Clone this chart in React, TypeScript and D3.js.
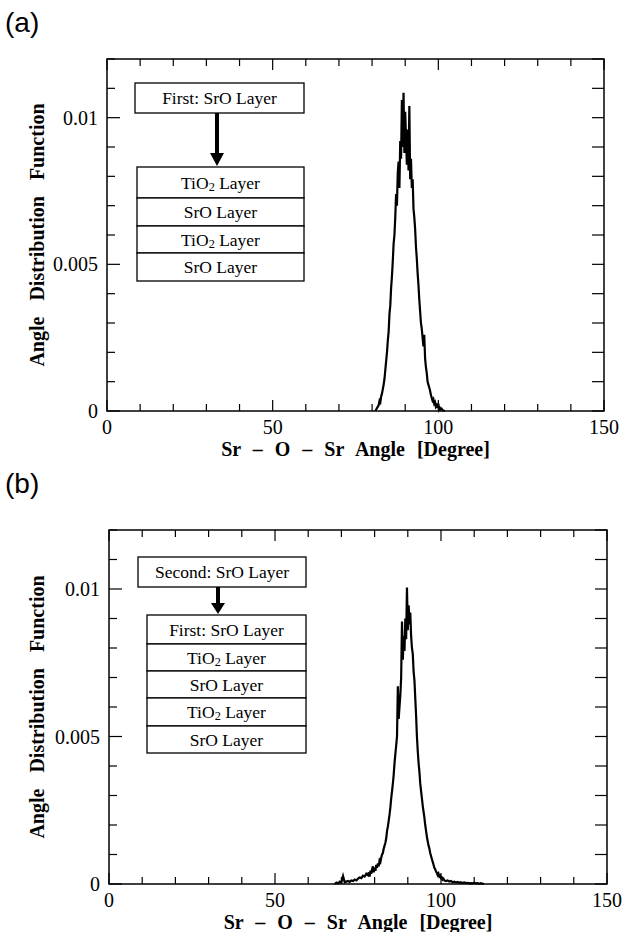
import React from "react";
import * as d3 from "d3";

// ---------- data ----------
const xTickValues = d3.range(0, 151, 10);
const xMajorLabels = [0, 50, 100, 150];
const yTickValues = d3.range(0, 13).map((i) => i * 0.001);
const yMajorLabels = [0, 0.005, 0.01];
const yLabelText = ["0", "0.005", "0.01"];

// Panel (a): Sr-O-Sr angle distribution, bins of 0.25 degree starting at 81.0 (values x 1e-3)
const aStart = 81.0;
const aStep = 0.25;
const aValues = [
  0, 0.05, 0.1, 0.15, 0.2, 0.35, 0.3, 0.5, 0.6, 0.75, 0.9, 1.1,
  1.4, 1.7, 2.0, 2.4, 2.7, 3.3, 3.6, 4.2, 4.6, 5.1, 5.7, 6.0,
  6.6, 7.4, 7.0, 8.1, 8.5, 7.6, 9.2, 8.6, 10.6, 9.0, 10.85, 8.8,
  10.2, 9.3, 8.4, 9.6, 8.2, 10.4, 7.9, 8.6, 7.6, 7.9, 6.9, 6.6,
  6.2, 5.6, 5.2, 4.7, 4.3, 3.8, 3.4, 3.0, 2.8, 2.5, 2.2, 2.6,
  1.8, 1.5, 1.3, 1.0, 0.9, 0.8, 0.7, 0.55, 0.45, 0.35, 0.4, 0.25,
  0.3, 0.15, 0.2, 0.1, 0.25, 0.05, 0.1, 0.05, 0.08, 0.04, 0.02, 0.01, 0,
];

// Panel (b): left tail (0.5 deg bins from 68.0), core (0.25 deg bins from 78.0), right tail (0.5 deg bins from 101.5)
const bLeftStart = 68.0;
const bLeftValues = [
  0, 0.05, 0.02, 0.08, 0.05, 0.27, 0.06, 0.08, 0.1, 0.07,
  0.12, 0.1, 0.15, 0.12, 0.18, 0.22, 0.2, 0.28, 0.25, 0.35,
];
const bCoreStart = 78.0;
const bCoreValues = [
  0.3, 0.4, 0.25, 0.45, 0.35, 0.5, 0.6, 0.4, 0.55, 0.45, 0.65, 0.55,
  0.7, 0.6, 0.8, 0.75, 0.9, 1.0, 1.05, 1.2, 1.3, 1.4, 1.55, 1.8,
  1.95, 2.15, 2.35, 2.6, 2.9, 3.15, 3.4, 3.7, 4.1, 4.4, 4.7, 5.0,
  6.7, 5.6, 6.0, 6.4, 7.0, 8.9, 7.6, 8.4, 7.9, 9.0, 8.3, 10.05,
  8.6, 9.45, 8.8, 9.2, 8.4, 8.0, 7.8, 7.2, 6.9, 6.3, 5.7, 5.0,
  4.5, 4.1, 3.8, 3.4, 3.15, 2.9, 2.65, 2.45, 2.25, 2.0, 1.8, 1.6,
  1.45, 1.3, 1.2, 1.05, 0.95, 0.85, 0.75, 0.65, 0.55, 0.5, 0.42, 0.38,
  0.3, 0.35, 0.25, 0.28, 0.2, 0.22, 0.15, 0.18, 0.12,
];
const bRightStart = 101.5;
const bRightValues = [
  0.1, 0.12, 0.08, 0.1, 0.06, 0.08, 0.05, 0.07, 0.04, 0.06, 0.03, 0.05,
  0.03, 0.04, 0.02, 0.03, 0.02, 0.04, 0.02, 0.03, 0.01, 0.03, 0.01, 0,
];

const legendHeadA = "First: SrO Layer";
const legendStackA = ["TiO2 Layer", "SrO Layer", "TiO2 Layer", "SrO Layer"];
const legendHeadB = "Second: SrO Layer";
const legendStackB = ["First: SrO Layer", "TiO2 Layer", "SrO Layer", "TiO2 Layer", "SrO Layer"];

const xTitle = "Sr \u2013 O \u2013 Sr Angle [Degree]";
const yTitle = "Angle Distribution Function";

// ---------- helpers ----------
type Pt = [number, number];
const series = (start: number, step: number, vals: number[]): Pt[] =>
  vals.map((v, i) => [start + i * step, v * 1e-3] as Pt);

const aData: Pt[] = series(aStart, aStep, aValues);
const bData: Pt[] = [
  ...series(bLeftStart, 0.5, bLeftValues),
  ...series(bCoreStart, 0.25, bCoreValues),
  ...series(bRightStart, 0.5, bRightValues),
];

const SERIF = "'Liberation Serif', 'Times New Roman', serif";
const SANS = "'Liberation Sans', Arial, Helvetica, sans-serif";

function LayerText({ text, x, y, size }: { text: string; x: number; y: number; size: number }) {
  const idx = text.indexOf("TiO2");
  if (idx >= 0) {
    const rest = text.slice(idx + 4);
    return (
      <text x={x} y={y} textAnchor="middle" fontFamily={SERIF} fontSize={size}>
        TiO
        <tspan fontSize={size * 0.7} dy={2}>2</tspan>
        <tspan dy={-2}>{rest}</tspan>
      </text>
    );
  }
  return (
    <text x={x} y={y} textAnchor="middle" fontFamily={SERIF} fontSize={size}>
      {text}
    </text>
  );
}

type PanelProps = {
  label: string;
  labelY: number;
  left: number;
  right: number;
  top: number;
  bottom: number;
  data: Pt[];
  head: string;
  stack: string[];
  headBox: { x0: number; x1: number; y0: number; y1: number };
  stackBox: { x0: number; x1: number; y0: number; rows: number[] };
  arrowX: number;
  headArrowTop: number;
};

function Panel(p: PanelProps) {
  const x = d3.scaleLinear().domain([0, 150]).range([p.left, p.right]);
  const y = d3.scaleLinear().domain([0, 0.012]).range([p.bottom, p.top]);
  const line = d3
    .line<Pt>()
    .x((d) => x(d[0]))
    .y((d) => y(d[1]));

  const cx = (p.left + p.right) / 2;
  const cy = (p.top + p.bottom) / 2;
  const fs = 17.5;

  const stackTop = p.stackBox.y0;
  const rowEdges = [stackTop, ...p.stackBox.rows];
  const arrowStart = p.headBox.y1;
  const arrowEnd = stackTop - 1;

  return (
    <g>
      <text x={5} y={p.labelY} fontFamily={SANS} fontSize={28}>
        {p.label}
      </text>

      {/* curve */}
      <path d={line(p.data) || ""} fill="none" stroke="#000" strokeWidth={2.2} strokeLinejoin="miter" />

      {/* frame */}
      <rect x={p.left} y={p.top} width={p.right - p.left} height={p.bottom - p.top} fill="none" stroke="#000" strokeWidth={1.5} />

      {/* x ticks bottom & top */}
      {xTickValues.map((t) => {
        const major = t % 50 === 0;
        const len = major ? 11 : 7;
        return (
          <g key={"xt" + t}>
            <line x1={x(t)} x2={x(t)} y1={p.bottom} y2={p.bottom - len} stroke="#000" strokeWidth={1.2} />
            <line x1={x(t)} x2={x(t)} y1={p.top} y2={p.top + len} stroke="#000" strokeWidth={1.2} />
          </g>
        );
      })}
      {/* y ticks left & right */}
      {yTickValues.map((t, i) => {
        const major = i % 5 === 0;
        const len = major ? 13 : 8;
        return (
          <g key={"yt" + i}>
            <line x1={p.left} x2={p.left + len} y1={y(t)} y2={y(t)} stroke="#000" strokeWidth={1.2} />
            <line x1={p.right} x2={p.right - 12} y1={y(t)} y2={y(t)} stroke="#000" strokeWidth={1.2} />
          </g>
        );
      })}

      {/* tick labels */}
      {xMajorLabels.map((t) => (
        <text key={"xl" + t} x={x(t)} y={p.bottom + 23} textAnchor="middle" fontFamily={SERIF} fontSize={20}>
          {t}
        </text>
      ))}
      {yMajorLabels.map((t, i) => (
        <text key={"yl" + i} x={p.left - 9} y={y(t) + 7} textAnchor="end" fontFamily={SERIF} fontSize={20}>
          {yLabelText[i]}
        </text>
      ))}

      {/* axis titles */}
      <text x={cx} y={p.bottom + 45} textAnchor="middle" fontFamily={SERIF} fontSize={20} fontWeight="bold" wordSpacing={7}>
        {xTitle}
      </text>
      <text
        transform={`translate(${44},${cy}) rotate(-90)`}
        textAnchor="middle"
        fontFamily={SERIF}
        fontSize={20}
        fontWeight="bold"
        wordSpacing={11}
      >
        {yTitle}
      </text>

      {/* legend: head box */}
      <rect
        x={p.headBox.x0}
        y={p.headBox.y0}
        width={p.headBox.x1 - p.headBox.x0}
        height={p.headBox.y1 - p.headBox.y0}
        fill="#fff"
        stroke="#000"
        strokeWidth={1.3}
      />
      <LayerText text={p.head} x={(p.headBox.x0 + p.headBox.x1) / 2} y={(p.headBox.y0 + p.headBox.y1) / 2 + 6} size={fs} />

      {/* arrow */}
      <line x1={p.arrowX} x2={p.arrowX} y1={arrowStart} y2={p.headArrowTop + 1} stroke="#000" strokeWidth={4} />
      <path
        d={`M${p.arrowX - 7},${p.headArrowTop} L${p.arrowX + 7},${p.headArrowTop} L${p.arrowX},${arrowEnd} Z`}
        fill="#000"
      />

      {/* stack */}
      {p.stack.map((s, i) => {
        const y0 = rowEdges[i];
        const y1 = rowEdges[i + 1];
        return (
          <g key={"st" + i}>
            <rect x={p.stackBox.x0} y={y0} width={p.stackBox.x1 - p.stackBox.x0} height={y1 - y0} fill="#fff" stroke="#000" strokeWidth={1.3} />
            <LayerText text={s} x={(p.stackBox.x0 + p.stackBox.x1) / 2} y={(y0 + y1) / 2 + 6} size={fs} />
          </g>
        );
      })}
    </g>
  );
}

export default function App() {
  return (
    <svg width={623} height={932} viewBox="0 0 623 932" style={{ position: "absolute", left: 0, top: 0, background: "#fff" }}>
      <rect x={0} y={0} width={623} height={932} fill="#fff" />
      <Panel
        label="(a)"
        labelY={32}
        left={107}
        right={604}
        top={59}
        bottom={411}
        data={aData}
        head={legendHeadA}
        stack={legendStackA}
        headBox={{ x0: 135, x1: 304, y0: 83, y1: 113 }}
        stackBox={{ x0: 137, x1: 304, y0: 167, rows: [198, 226, 253, 281] }}
        arrowX={217}
        headArrowTop={153}
      />
      <Panel
        label="(b)"
        labelY={493}
        left={109}
        right={607}
        top={530}
        bottom={884}
        data={bData}
        head={legendHeadB}
        stack={legendStackB}
        headBox={{ x0: 138, x1: 306, y0: 557, y1: 587 }}
        stackBox={{ x0: 147, x1: 306, y0: 615, rows: [644, 671, 698, 726, 753] }}
        arrowX={218}
        headArrowTop={603}
      />
    </svg>
  );
}
